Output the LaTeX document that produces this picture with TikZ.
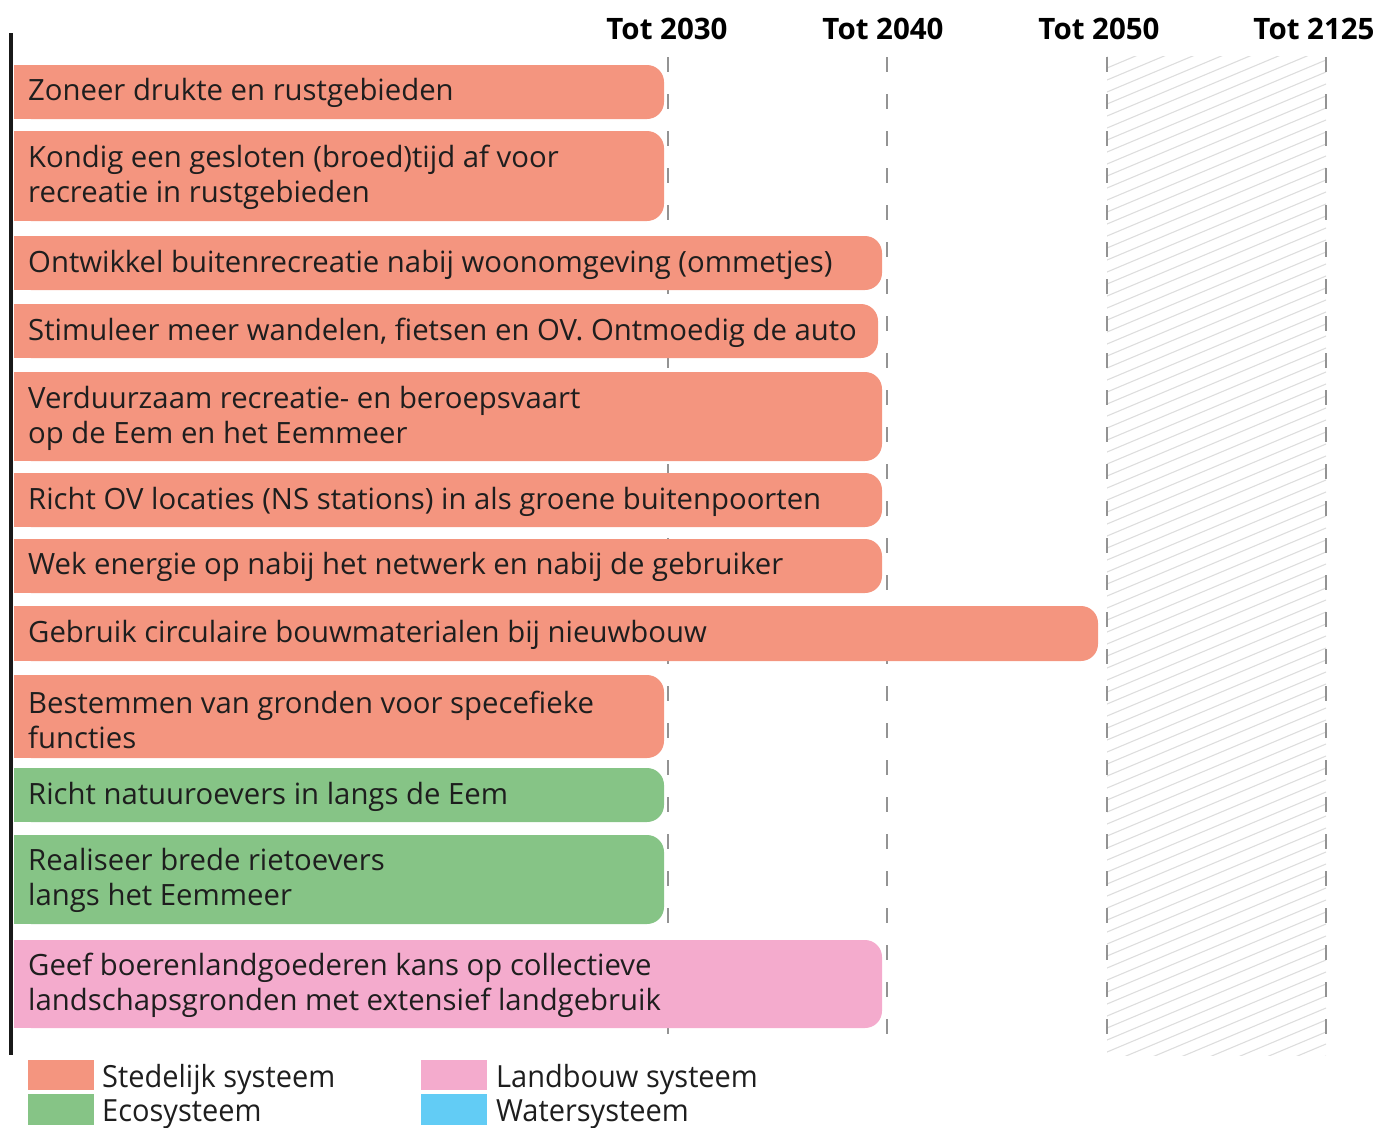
\documentclass[tikz,border=0pt]{standalone}
\usepackage{fontspec}
\usepackage{tikz}
\setmainfont{Open Sans}
\newfontfamily\legendfont[FakeStretch=0.95]{Open Sans}

\definecolor{stedelijk}{HTML}{F4957F}
\definecolor{eco}{HTML}{86C486}
\definecolor{landbouw}{HTML}{F4ABCD}
\definecolor{water}{HTML}{62CCF5}
\definecolor{taaktekst}{HTML}{1E1E1E}

\tikzset{
  taak/.style={anchor=west, align=left, inner sep=0pt, text=taaktekst,
    font=\fontsize{29.3}{35}\selectfont},
  jaar/.style={font=\bfseries\fontsize{29.5}{34}\selectfont},
  grens/.style={color=gray!85, line width=2pt, dash pattern=on 15pt off 22pt},
  arcering/.style={color=gray!27, line width=1.1pt},
  legenda/.style={anchor=west, inner sep=0pt, text=taaktekst,
    font=\legendfont\fontsize{30.5}{34}\selectfont},
}

\begin{document}
\begin{tikzpicture}[x=1pt,y=-1pt]
\useasboundingbox (0,0) rectangle (1378,1127);

%% hatched period
\begin{scope}
\clip (1107,56) rectangle (1326,1055);
\foreach \k in {0,...,95}
  \draw[arcering] (1107,56+12*\k) -- (1326,56+12*\k-92);
\end{scope}

%% year headers
\node[jaar] (t2030) at (667,29) {Tot 2030};
\node[jaar] (t2040) at (883,29) {Tot 2040};
\node[jaar] (t2050) at (1099,29) {Tot 2050};
\node[jaar] (t2125) at (1314,29) {Tot 2125};

%% year borders
\coordinate (g2030a) at (668,57);    \coordinate (g2030b) at (668,1040);
\coordinate (g2040a) at (887,57);    \coordinate (g2040b) at (887,1040);
\coordinate (g2050a) at (1107,57);   \coordinate (g2050b) at (1107,1040);
\coordinate (g2125a) at (1326,57);   \coordinate (g2125b) at (1326,1040);
\draw[grens] (g2030a) -- (g2030b);
\draw[grens] (g2040a) -- (g2040b);
\draw[grens] (g2050a) -- (g2050b);
\draw[grens] (g2125a) -- (g2125b);

%% bars (rounded on the right only)
\fill[stedelijk, rounded corners=17pt] (14,65) rectangle (664,119);   %% zoneer
\fill[stedelijk] (14,65) rectangle (624,119);
\fill[stedelijk, rounded corners=17pt] (14,131) rectangle (664,221);  %% kondig
\fill[stedelijk] (14,131) rectangle (624,221);
\fill[stedelijk, rounded corners=17pt] (14,236) rectangle (882,290);  %% ontwikkel
\fill[stedelijk] (14,236) rectangle (842,290);
\fill[stedelijk, rounded corners=17pt] (14,304) rectangle (878,358);  %% stimuleer
\fill[stedelijk] (14,304) rectangle (838,358);
\fill[stedelijk, rounded corners=17pt] (14,372) rectangle (882,461);  %% verduurzaam
\fill[stedelijk] (14,372) rectangle (842,461);
\fill[stedelijk, rounded corners=17pt] (14,473) rectangle (882,527);  %% richt OV
\fill[stedelijk] (14,473) rectangle (842,527);
\fill[stedelijk, rounded corners=17pt] (14,539) rectangle (882,593);  %% wek
\fill[stedelijk] (14,539) rectangle (842,593);
\fill[stedelijk, rounded corners=17pt] (14,606) rectangle (1098,661); %% gebruik
\fill[stedelijk] (14,606) rectangle (1058,661);
\fill[stedelijk, rounded corners=17pt] (14,675) rectangle (664,758);  %% bestemmen
\fill[stedelijk] (14,675) rectangle (624,758);
\fill[eco, rounded corners=17pt] (14,768) rectangle (664,822);        %% natuuroevers
\fill[eco] (14,768) rectangle (624,822);
\fill[eco, rounded corners=17pt] (14,835) rectangle (664,924);        %% rietoevers
\fill[eco] (14,835) rectangle (624,924);
\fill[landbouw, rounded corners=17pt] (14,940) rectangle (882,1028);  %% boerenland
\fill[landbouw] (14,940) rectangle (842,1028);

%% bar texts
\node[taak] (zoneer) at (28,93) {Zoneer drukte en rustgebieden};
\node[taak] (kondig) at (28,177) {Kondig een gesloten (broed)tijd af voor\\recreatie in rustgebieden};
\node[taak] (ontwikkel) at (28,265) {Ontwikkel buitenrecreatie nabij woonomgeving (ommetjes)};
\node[taak] (stimuleer) at (28,333) {Stimuleer meer wandelen, fietsen en OV. Ontmoedig de auto};
\node[taak] (verduurzaam) at (28,418) {Verduurzaam recreatie- en beroepsvaart\\op de Eem en het Eemmeer};
\node[taak] (richtov) at (28,502) {Richt OV locaties (NS stations) in als groene buitenpoorten};
\node[taak] (wek) at (28,567) {Wek energie op nabij het netwerk en nabij de gebruiker};
\node[taak] (gebruik) at (28,635) {Gebruik circulaire bouwmaterialen bij nieuwbouw};
\node[taak] (bestemmen) at (28,720) {Bestemmen van gronden voor specefieke\\functies};
\node[taak] (natuuroevers) at (28,797) {Richt natuuroevers in langs de Eem};
\node[taak] (rietoevers) at (28,880) {Realiseer brede rietoevers\\langs het Eemmeer};
\node[taak] (boerenland) at (28,985) {Geef boerenlandgoederen kans op collectieve\\landschapsgronden met extensief landgebruik};

%% axis
\draw[line width=4pt, color=black!90] (11,33) -- (11,1055);

%% legend
\fill[stedelijk] (28,1060) rectangle (94,1090);
\fill[eco] (28,1094) rectangle (94,1125);
\fill[landbouw] (421,1060) rectangle (487,1090);
\fill[water] (421,1094) rectangle (487,1125);
\node[legenda] (lstedelijk) at (102,1080) {Stedelijk systeem};
\node[legenda] (leco) at (102,1114) {Ecosysteem};
\node[legenda] (llandbouw) at (496,1080) {Landbouw systeem};
\node[legenda] (lwater) at (496,1114) {Watersysteem};

\end{tikzpicture}
\end{document}
